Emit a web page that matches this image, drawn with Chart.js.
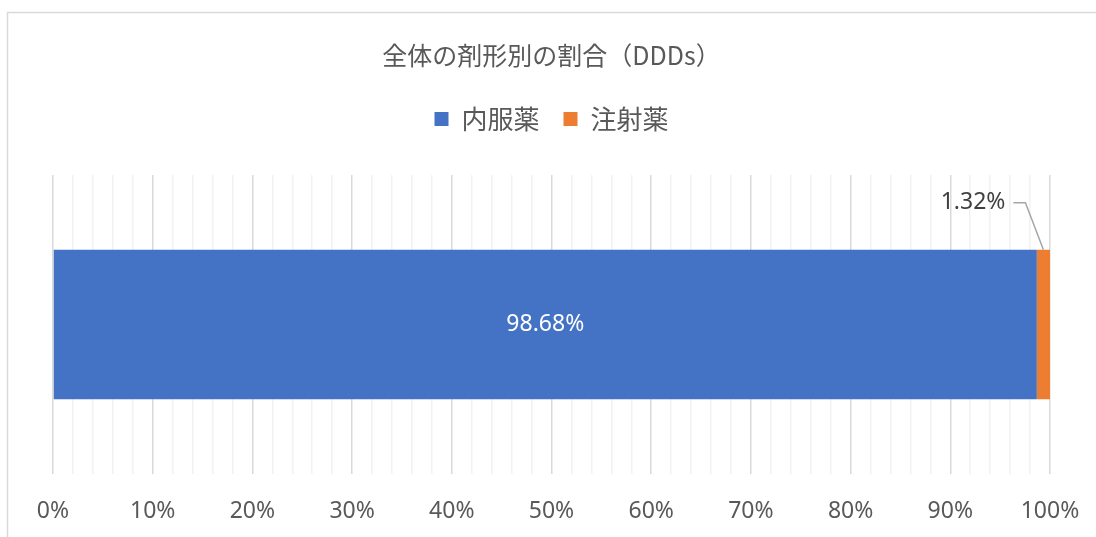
<!DOCTYPE html>
<html>
<head>
<meta charset="utf-8">
<script src="https://cdn.jsdelivr.net/npm/chart.js@4/dist/chart.umd.min.js"></script>
<style>
  html, body { margin: 0; padding: 0; background: #fff; }
  #wrap { width: 1096px; height: 537px; position: relative; }
</style>
</head>
<body>
<div id="wrap"><canvas id="myChart" width="1096" height="537"></canvas></div>
<script>
const categories = ['全体'];
const seriesNames = ['内服薬', '注射薬'];
const oralShare = [98.68];
const injectionShare = [1.32];
const seriesColors = ['#4472C4', '#ED7D31'];

const textGray = '#595959';
const jpFont = '"Noto Sans CJK JP", "Noto Sans", sans-serif';
const numFont = '"Noto Sans", sans-serif';

// outer frame of the chart, runs off the right and bottom edge
const framePlugin = {
    id: 'frame',
    beforeDraw(chart) {
        const c = chart.ctx;
        c.save();
        c.fillStyle = '#fff';
        c.fillRect(0, 0, chart.width, chart.height);
        c.strokeStyle = '#d9d9d9';
        c.lineWidth = 1.5;
        c.strokeRect(7.5, 12.5, chart.width + 20, chart.height + 20);
        c.restore();
    }
};

// percentage labels: inside the big bar, and with a leader line for the thin one
const valueLabels = {
    id: 'valueLabels',
    afterDatasetsDraw(chart) {
        const c = chart.ctx;
        c.save();
        c.font = '23px ' + numFont;
        c.textBaseline = 'middle';

        let bar = chart.getDatasetMeta(0).data[0];
        c.fillStyle = '#fff';
        c.textAlign = 'center';
        c.fillText(oralShare[0].toFixed(2) + '%', (bar.x + bar.base) / 2, bar.y);

        bar = chart.getDatasetMeta(1).data[0];
        let tipX = (bar.x + bar.base) / 2;
        let tipY = bar.y - bar.height / 2;
        let elbowX = tipX - 18;
        let elbowY = tipY - 47;
        let startX = elbowX - 12;
        c.strokeStyle = '#a6a6a6';
        c.lineWidth = 1.5;
        c.beginPath();
        c.moveTo(startX, elbowY);
        c.lineTo(elbowX, elbowY);
        c.lineTo(tipX, tipY);
        c.stroke();
        c.fillStyle = '#404040';
        c.textAlign = 'right';
        c.fillText(injectionShare[0].toFixed(2) + '%', startX - 8, elbowY);
        c.restore();
    }
};

const ctx = document.getElementById('myChart').getContext('2d');
const myChart = new Chart(ctx, {
    type: 'bar',
    data: {
        labels: categories,
        datasets: [{
            label: seriesNames[0],
            data: oralShare,
            backgroundColor: seriesColors[0],
            barPercentage: 0.5,
            categoryPercentage: 1
        }, {
            label: seriesNames[1],
            data: injectionShare,
            backgroundColor: seriesColors[1],
            barPercentage: 0.5,
            categoryPercentage: 1
        }]
    },
    options: {
        indexAxis: 'y',
        responsive: false,
        animation: false,
        layout: {
            padding: { left: 53, right: 46, top: 0, bottom: 0 }
        },
        scales: {
            x: {
                stacked: true,
                min: 0,
                max: 100,
                border: { display: false },
                afterFit: (scale) => {
                    scale.height = 63;
                    scale.paddingLeft = 0;
                    scale.paddingRight = 0;
                },
                grid: {
                    drawTicks: false,
                    lineWidth: 1.5,
                    color: (context) => context.tick && context.tick.value % 10 === 0 ? '#d9d9d9' : '#f2f2f2'
                },
                ticks: {
                    stepSize: 2,
                    autoSkip: false,
                    maxRotation: 0,
                    padding: 24,
                    color: textGray,
                    font: { family: numFont, size: 23 },
                    callback: (v) => v % 10 === 0 ? v + '%' : ''
                }
            },
            // empty band between the legend and the plot
            spacer: {
                position: 'top',
                axis: 'x',
                display: true,
                grid: { display: false },
                border: { display: false },
                ticks: { display: false },
                afterFit: (scale) => { scale.height = 33; }
            },
            y: {
                stacked: true,
                display: false
            }
        },
        plugins: {
            tooltip: { enabled: false },
            title: {
                display: true,
                text: '全体の剤形別の割合（DDDs）',
                color: textGray,
                font: { family: jpFont, size: 25, weight: 'normal' },
                padding: { top: 40, bottom: 12 }
            },
            legend: {
                display: true,
                labels: {
                    color: textGray,
                    boxWidth: 14,
                    boxHeight: 14,
                    padding: 24,
                    font: { family: jpFont, size: 26 }
                }
            }
        }
    },
    plugins: [framePlugin, valueLabels]
});
</script>
</body>
</html>
